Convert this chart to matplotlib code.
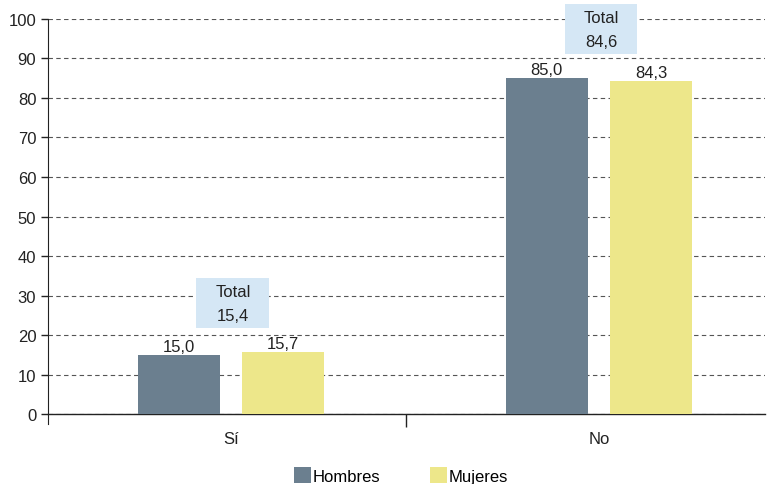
import matplotlib
matplotlib.use("Agg")
import matplotlib.pyplot as plt
from matplotlib.patches import Rectangle
import numpy as np

plt.rcParams['font.family'] = ['Liberation Sans', 'DejaVu Sans']

# --- datos ---
categorias = ["Sí", "No"]
hombres = [15.0, 85.0]
mujeres = [15.7, 84.3]
totales = [15.4, 84.6]
series = ["Hombres", "Mujeres"]
colores = ["#6b7f8f", "#ede78a"]

fs = 12
fig = plt.figure(figsize=(7.76, 4.85), dpi=100)
ax = fig.add_axes([0.062, 0.144, 0.924, 0.815])

x = np.arange(len(categorias))
w = 0.223
off = 0.142
b1 = ax.bar(x - off, hombres, w, color=colores[0], label=series[0], zorder=3)
b2 = ax.bar(x + off, mujeres, w, color=colores[1], label=series[1], zorder=3)

def fmt(v):
    return f"{v:.1f}".replace(".", ",")

for bars, vals in ((b1, hombres), (b2, mujeres)):
    for rect, v in zip(bars, vals):
        ax.text(rect.get_x() + rect.get_width() / 2, v + 0.3, fmt(v),
                ha="center", va="bottom", fontsize=fs, color="#222222", zorder=4)

# cajas de total
bw, bh = 0.198, 12.6
for i, t in enumerate(totales):
    yc = max(hombres[i], mujeres[i]) + 12.4
    ax.add_patch(Rectangle((x[i] + 0.005 - bw / 2, yc - bh / 2), bw, bh,
                           fc="#d5e7f5", ec="none", zorder=4, clip_on=False))
    ax.text(x[i] + 0.005, yc, f"Total\n{fmt(t)}", ha="center", va="center",
            fontsize=fs, color="#222222", linespacing=1.75, zorder=5)

ax.set_ylim(0, 100)
ax.set_xlim(-0.497, 1.451)
ax.set_yticks(np.arange(0, 101, 10))
ax.yaxis.grid(True, linestyle=(0, (4, 3)), color="#555555", linewidth=0.8, zorder=0)
ax.set_axisbelow(True)

ax.set_xticks(x)
ax.set_xticklabels(categorias)
ax.tick_params(axis="x", length=0, pad=12, labelsize=fs, colors="#222222")
ax.set_xticks([0.476], minor=True)
ax.tick_params(axis="x", which="minor", length=9, width=1, color="#222222")
ax.tick_params(axis="y", length=5, width=1, labelsize=fs, colors="#222222")

for s in ("top", "right"):
    ax.spines[s].set_visible(False)
ax.spines["left"].set_bounds(-2.5, 100)
ax.spines["left"].set_color("#222222")
ax.spines["bottom"].set_color("#222222")
ax.spines["bottom"].set_linewidth(1)

fig.legend(handles=[b1, b2], labels=series, loc="center", bbox_to_anchor=(0.517, 0.017),
           ncol=2, frameon=False, fontsize=fs, handlelength=1.0, handleheight=1.1,
           handletextpad=0.1, columnspacing=3.0, borderaxespad=0)

fig.savefig("out.png", dpi=100)
